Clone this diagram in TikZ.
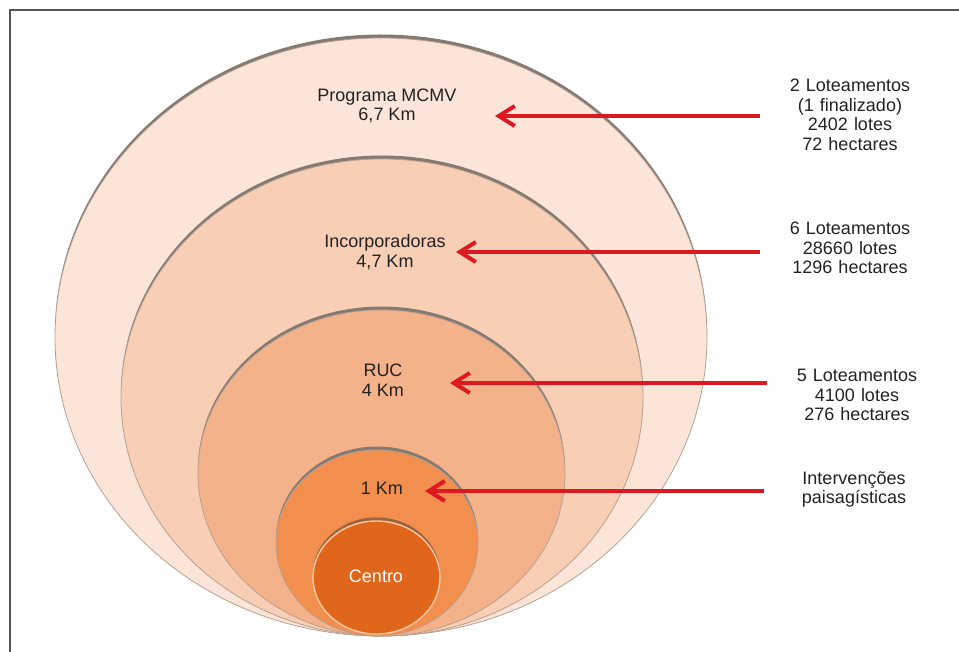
\documentclass[tikz,border=0pt]{standalone}
\usepackage{fontspec}
\setmainfont{Liberation Sans}
\usetikzlibrary{shapes.geometric,shadows,arrows.meta}
\definecolor{ringA}{HTML}{FBE5D8}
\definecolor{ringB}{HTML}{F8CEB4}
\definecolor{ringC}{HTML}{F4B28A}
\definecolor{ringD}{HTML}{F28E4E}
\definecolor{ringE}{HTML}{E0661C}
\definecolor{ringedge}{HTML}{B8A090}
\definecolor{ringshadow}{HTML}{857A72}
\definecolor{centershadow}{HTML}{A0603A}
\definecolor{centeredge}{HTML}{F9C9A3}
\definecolor{arrowred}{HTML}{DC1820}
\definecolor{txtgray}{HTML}{222222}
\definecolor{framegray}{HTML}{555555}
\begin{document}
\begin{tikzpicture}[x=1pt,y=-1pt,
	ring/.style={ellipse,inner sep=0,draw=ringedge,line width=.8pt,
		drop shadow={shadow xshift=0pt,shadow yshift=3.5pt,fill=ringshadow,opacity=1}},
	lbl/.style={inner sep=0,align=center,text=txtgray,font=\fontsize{18}{19.5}\selectfont},
	info/.style={lbl,text width=180pt},
	redarrow/.style={draw=arrowred,line width=4pt,-{Straight Barb[length=16pt,width=20pt]}}]
		\useasboundingbox (0,0) rectangle (959,652);
		\draw[framegray,line width=2pt] (9.5,652) -- (9.5,10) -- (959,10);
		% rings, outside in
		\node[ring,fill=ringA,minimum width=652pt,minimum height=598pt] (ring1) at (381,337){};
		\node[ring,fill=ringB,minimum width=522pt,minimum height=477pt] (ring2) at (382,397.5){};
		\node[ring,fill=ringC,minimum width=367pt,minimum height=326pt] (ring3) at (381.5,473){};
		\node[ring,fill=ringD,minimum width=202pt,minimum height=186pt] (ring4) at (377,543){};
		\node[ring,fill=ringE,draw=centeredge,line width=1.4pt,minimum width=127pt,minimum height=113pt,
			drop shadow={shadow xshift=0pt,shadow yshift=3.5pt,fill=centershadow,opacity=1}] (ring5) at (376.5,577.5){};
		% labels inside
		\node[lbl] (lbl1) at (387,106){Programa MCMV\\6,7 Km};
		\node[lbl] (lbl2) at (385,252){Incorporadoras\\4,7 Km};
		\node[lbl] (lbl3) at (383,380){RUC\\4 Km};
		\node[lbl] (lbl4) at (382,488){1 Km};
		\node[lbl,text=white] (lbl5) at (376,576){Centro};
		% notes on the right
		\node[info] (info1) at (850,115){2 Loteamentos\\(1 finalizado)\\2402 lotes\\72 hectares};
		\node[info] (info2) at (850,248){6 Loteamentos\\28660 lotes\\1296 hectares};
		\node[info] (info3) at (857,395){5 Loteamentos\\4100 lotes\\276 hectares};
		\node[info] (info4) at (854,489.5){Intervenções\\paisagísticas};
		\coordinate (tip1) at (495,116);
		\coordinate (tip2) at (456,252);
		\coordinate (tip3) at (450,383);
		\coordinate (tip4) at (425,491);
		\draw[redarrow] (info1.west |- tip1) -- (tip1);
		\draw[redarrow] (info2.west |- tip2) -- (tip2);
		\draw[redarrow] (info3.west |- tip3) -- (tip3);
		\draw[redarrow] (info4.west |- tip4) -- (tip4);
\end{tikzpicture}
\end{document}
